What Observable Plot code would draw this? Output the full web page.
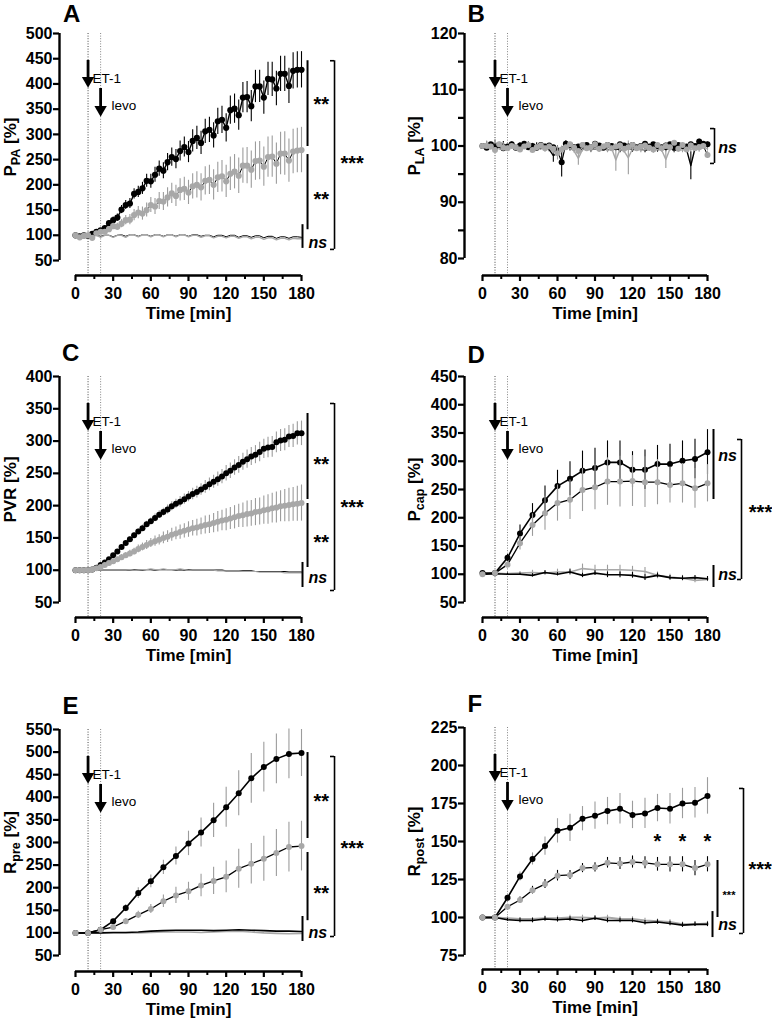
<!DOCTYPE html>
<html><head><meta charset="utf-8">
<script src="https://cdn.jsdelivr.net/npm/d3@7"></script>
<script src="https://cdn.jsdelivr.net/npm/@observablehq/plot@0.6"></script>
<style>
body{margin:0;background:#fff;}
#wrap{position:relative;width:772px;height:1020px;overflow:hidden;font-family:"Liberation Sans",Arial,Helvetica,sans-serif;}
.panel{position:absolute;width:386px;height:340px;}
.letter{position:absolute;font:bold 24px/24px "Liberation Sans",Arial,sans-serif;color:#000;}
</style></head><body><div id="wrap"></div>
<script>
// ---------- time grids & ticks ----------
const times = [0,3.33,6.67,10,13.33,16.67,20,23.33,26.67,30,33.33,36.67,40,43.33,46.67,50,53.33,56.67,60,63.33,66.67,70,73.33,76.67,80,83.33,86.67,90,93.33,96.67,100,103.33,106.67,110,113.33,116.67,120,123.33,126.67,130,133.33,136.67,140,143.33,146.67,150,153.33,156.67,160,163.33,166.67,170,173.33,176.67,180];
const times10 = [0,10,20,30,40,50,60,70,80,90,100,110,120,130,140,150,160,170,180];
const xTicks = [0,30,60,90,120,150,180];
const xMinor = [15,45,75,105,135,165];
const events = [{t:10,label:"ET-1"},{t:20,label:"levo"}];

// ---------- A: P_PA ----------
const A_et   = [100,98,100,99,103,107,110,114,124,130,135,151,160,163,182,186,193,208,207,220,232,228,245,255,251,267,275,265,287,293,283,306,309,298,326,329,313,348,351,338,373,374,356,395,395,373,410,409,391,420,420,396,426,428,428];
const A_etE  = [0,1,1,1,2,2,3,4,5,6,7,8,9,10,10,11,12,13,14,15,15,16,17,18,19,20,20,21,22,23,23,24,25,25,26,27,28,28,29,30,30,31,31,32,32,33,33,34,34,35,35,35,36,36,36];
const A_lv   = [100,96,99,100,95,104,107,107,112,118,117,123,130,131,140,145,143,150,160,157,168,167,175,183,178,190,192,185,197,200,195,208,210,200,215,217,207,222,226,218,238,238,230,247,248,236,255,256,242,262,262,248,266,268,269];
const A_lvE  = [0,1,1,1,2,2,3,4,5,6,7,8,9,10,11,12,13,14,15,16,17,18,19,20,21,22,23,24,25,26,27,28,29,30,30,31,32,33,34,35,35,36,37,38,38,39,40,41,41,42,43,43,44,44,45];
const A_ctl  = [100,100,100,97,100,100,98,100,100,97,100,101,98,101,101,98,101,101,98,101,101,98,101,101,98,101,101,98,101,101,98,100,100,97,100,100,97,100,100,96,99,99,96,99,99,95,98,98,94,97,97,94,97,97,96];
const A_lvo  = [100,99,100,96,99,100,96,100,100,96,100,100,96,101,101,97,101,101,97,101,101,97,101,101,97,101,101,97,100,100,96,99,99,95,98,98,95,98,98,94,97,97,93,96,96,92,95,95,91,94,94,91,94,93,93];

// ---------- B: P_LA ----------
const B_et   = [100.0,99.7,100.3,99.8,100.2,99.6,99.9,100.3,99.7,100.1,100.4,99.8,100.0,99.7,100.2,99.9,100.1,99.8,99.2,97.1,100.4,100.2,99.8,99.9,100.1,100.2,99.8,100.4,100.1,99.7,100.2,100.0,99.8,100.3,100.1,99.9,100.2,99.8,100.0,100.4,99.9,100.3,100.0,99.8,100.1,100.3,99.7,100.2,100.0,99.9,100.3,100.0,100.8,100.4,100.3];
const B_etE  = [0,0.3,0.3,0.3,0.3,0.3,0.3,0.3,0.3,0.3,0.3,0.3,0.3,0.3,0.3,0.3,0.3,0.3,0.8,2.6,0.5,0.3,0.3,0.3,0.3,0.3,0.3,0.3,0.3,0.3,0.3,0.3,0.3,0.3,0.3,0.3,0.3,0.3,0.3,0.3,0.3,0.3,0.3,0.3,0.3,0.3,0.3,0.3,0.3,0.3,0.3,0.3,0.4,0.4,0.4];
const B_lv   = [100.0,100.0,99.9,99.3,100.3,99.7,99.6,100.0,99.8,99.4,99.9,100.2,99.3,99.8,100.1,99.6,99.9,99.5,98.7,99.4,99.8,100.3,99.7,99.1,100.2,99.6,99.8,100.3,99.5,99.9,100.2,99.6,99.9,100.1,99.5,99.8,100.2,99.6,99.9,100.1,99.7,99.4,100.2,99.6,100.0,99.8,100.6,99.5,100.2,99.4,100.1,99.6,99.8,100.0,98.4];
const B_lvE  = [0,0.4,0.4,0.4,0.4,0.4,0.4,0.4,0.4,0.4,0.4,0.4,0.4,0.4,0.4,0.4,0.4,0.4,1.2,0.6,0.4,0.4,0.4,0.4,0.4,0.4,0.4,0.4,0.4,0.4,0.4,0.4,0.4,0.4,0.4,0.4,0.4,0.4,0.4,0.4,0.4,0.4,0.4,0.4,0.4,0.4,0.4,0.4,0.4,0.4,0.4,0.4,0.4,0.4,0.6];
const B_ctl  = [100,100.3,99.8,100.5,99.9,100.4,99.6,100.4,99.7,100.2,99.8,100.3,99.5,100.2,99.7,99.9,99.4,98.3,98.8,99.5,100.5,99.5,99.7,99.2,99.4,99.9,99.3,99.6,99.4,99.8,99.3,99.5,99.6,99.2,99.4,99.7,99.3,99.5,99.6,99.2,99.5,99.7,99.3,99.5,99.4,99.6,99.2,99.4,99.7,99.3,96.5,99.6,99.8,100.2,100.1];
const B_ctlE = [0,0.4,0.4,0.4,0.4,0.4,0.4,0.4,0.4,0.4,0.4,0.4,0.4,0.4,0.4,0.4,0.4,1.2,0.6,0.4,0.4,0.4,0.4,0.4,0.4,0.4,0.4,0.4,0.4,0.4,0.4,0.4,0.4,0.4,0.4,0.4,0.4,0.4,0.4,0.4,0.4,0.4,0.4,0.4,0.4,0.4,0.4,0.4,0.4,0.4,2.5,0.4,0.4,0.4,0.4];
const B_lvo  = [100,100.5,99.7,100.8,99.6,100.2,99.9,100.4,99.8,99.5,100.3,99.6,100.1,99.7,99.9,99.3,99.8,99.0,98.8,99.5,100.0,99.6,99.1,97.8,99.4,99.7,99.2,99.6,99.3,99.7,99.2,99.6,97.5,99.4,99.1,97.9,99.5,99.6,99.2,99.4,99.6,99.1,99.5,99.3,97.6,99.5,99.3,99.6,99.2,99.7,99.4,99.6,99.3,99.8,99.5];
const B_lvoE = [0,0.4,0.4,0.4,0.4,0.4,0.4,0.4,0.4,0.4,0.4,0.4,0.4,0.4,0.4,0.4,0.4,0.4,0.4,0.4,0.4,0.4,0.4,1.2,0.4,0.4,0.4,0.4,0.4,0.4,0.4,0.4,2.0,0.4,0.4,3.0,0.4,0.4,0.4,0.4,0.4,0.4,0.4,0.4,1.6,0.4,0.4,0.4,0.4,0.4,0.4,0.4,0.4,0.4,0.4];

// ---------- C: PVR ----------
const C_et   = [100,100,100,100,101,104,108,112,117,123,129,136,142,148,154,160,165,171,176,181,186,190,194,199,203,206,210,214,218,221,225,229,233,237,241,245,250,254,259,263,268,272,276,279,283,288,290,291,298,301,302,307,308,312,312];
const C_etE  = [0,0,0,0,1,1,1,2,2,2,3,3,3,4,4,4,5,5,5,6,6,6,7,7,7,8,8,8,9,9,9,10,10,10,11,11,12,12,12,13,13,14,14,14,15,15,16,16,16,17,17,17,18,18,19];
const C_lv   = [100,100,100,100,101,103,105,108,111,114,117,120,123,126,129,133,136,139,142,145,147,150,152,155,157,159,161,163,165,166,168,170,171,173,175,177,178,180,182,184,185,187,188,190,191,193,194,196,197,199,200,201,202,203,204];
const C_lvE  = [0,0,0,0,1,1,1,2,2,3,3,4,4,5,5,6,6,7,7,8,8,9,9,10,10,11,11,12,12,13,13,14,14,15,16,16,17,17,18,18,19,20,20,21,21,22,23,23,24,24,25,26,26,27,28];
const C_ctl  = [100,100,100,100,100,100,100,100,100,100,100,100,100,100,101,100,100,101,101,100,101,101,101,101,100,101,100,101,100,100,100,100,100,100,100,100,99,99,99,99,99,99,99,98,98,98,98,98,98,98,98,97,97,97,97];
const C_lvo  = [100,100,100,100,100,100,100,100,100,100,100,100,100,101,100,100,101,101,102,101,101,102,101,101,101,102,101,100,100,100,100,100,100,100,99,99,99,99,99,99,98,98,98,98,97,97,97,97,97,97,96,96,96,96,96];

// ---------- D: P_cap ----------
const D_et   = [102,102,129,172,205,231,256,269,283,288,298,298,285,285,295,295,301,304,316];
const D_etE  = [0,2,6,15,20,25,28,30,35,35,38,38,32,35,33,35,35,35,40];
const D_lv   = [100,102,117,155,187,208,226,232,249,254,264,264,265,263,263,258,261,252,261];
const D_lvE  = [0,2,5,12,20,30,32,35,38,40,42,45,45,45,40,32,35,35,33];
const D_ctl  = [100,101,100,100,98,103,100,104,98,102,99,99,98,94,98,94,93,94,92];
const D_ctlE = [0,2,2,2,3,3,3,4,4,4,5,5,5,5,4,4,4,4,4];
const D_lvo  = [100,102,101,102,103,102,104,104,110,108,108,108,107,105,98,95,93,89,91];
const D_lvoE = [0,2,3,3,4,4,5,6,8,8,8,8,7,7,6,5,5,4,4];

// ---------- E: R_pre ----------
const E_et   = [100,100,107,126,155,188,214,245,270,298,322,349,378,409,442,467,485,496,498];
const E_etE  = [0,1,3,5,8,12,14,16,20,27,32,38,44,50,55,55,55,55,52];
const E_lv   = [100,100,107,113,126,140,153,170,183,192,205,215,224,242,253,264,277,290,292];
const E_lvE  = [0,1,3,5,6,8,10,14,18,20,25,30,35,43,45,50,52,55,55];
const E_ctl  = [100,100,100,101,101,102,104,105,106,106,106,105,106,107,106,105,104,104,103];
const E_lvo  = [100,100,100,100,100,100,101,102,102,102,101,102,103,104,102,100,99,98,99];

// ---------- F: R_post ----------
const F_et   = [100,100,113,127,138.5,147,157,159,165,167,170,171.5,167.5,168.5,172,171.5,175,175.5,180];
const F_etE  = [0,1,2,3,4,6,8,9,8,9,9,10,9,10,9,10,10,10,12];
const F_lv   = [100,100,107,111.5,118,122,127.5,128,132.5,133,136,135.5,136.5,136,135,135,135,132.5,135];
const F_lvE  = [0,1,1.5,2,2.5,3,3.5,3,3,3,3.5,4,4,4,4.5,5,5,5,5];
const F_ctl  = [100,100,98.5,98,98,99,98.5,99,98,99.5,98,98,98,96.5,97,96,95,95.5,95.5];
const F_ctlE = [0,1,1,1.5,1.5,1.5,1.5,1.5,1.5,1.5,1.5,1.5,1.5,1.5,1.5,1.5,1.5,1.5,1.5];
const F_lvo  = [100,100,99.5,99,99,99.5,99.5,100,100,99.5,100,99,99,98,97.5,97,95.5,95.5,96];
const F_lvoE = [0,1,1,1,1,1.5,1.5,1.5,1.5,1.5,1.5,1.5,1.5,1.5,1.5,1.5,1.5,1.5,1.5];

// ---------- y ticks ----------
const ticksA = [50,100,150,200,250,300,350,400,450,500];
const ticksB = [80,90,100,110,120];
const minorB = [85,95,105,115];
const ticksC = [50,100,150,200,250,300,350,400];
const ticksD = [50,100,150,200,250,300,350,400,450];
const ticksE = [50,100,150,200,250,300,350,400,450,500,550];
const ticksF = [75,100,125,150,175,200,225];

// ---------- significance annotations (data units) ----------
const annA = {v:[{x:184.8,y1:446,y2:276},{x:184.8,y1:260,y2:111},{x:180.8,y1:121,y2:74}],
  b:[{x:206.3,y1:446,y2:72}],
  t:[{x:195.7,y:367,t:"**"},{x:195.7,y:179,t:"**"},{x:185.6,y:84,t:"ns"},{x:220.4,y:252,t:"***"}]};
const annB = {v:[], b:[{x:185.6,y1:103.1,y2:96.9}], t:[{x:188.6,y:99.7,t:"ns"}]};
const annC = {v:[{x:184.8,y1:342.7,y2:209.5},{x:184.8,y1:203.3,y2:104.2},{x:180.8,y1:112,y2:73.2}],
  b:[{x:206.3,y1:358.2,y2:68.6}],
  t:[{x:195.7,y:270,t:"**"},{x:195.7,y:149,t:"**"},{x:185.6,y:88.7,t:"ns"},{x:220.4,y:203.3,t:"***"}]};
const annD = {v:[{x:184.8,y1:356.2,y2:232.3},{x:184.8,y1:115.5,y2:76.5}],
  b:[{x:207.2,y1:338.5,y2:90.7}],
  t:[{x:188.6,y:310.2,t:"ns"},{x:188.6,y:99.6,t:"ns"},{x:222.4,y:216.4,t:"***"}]};
const annE = {v:[{x:184.8,y1:499,y2:308.8},{x:184.8,y1:277.9,y2:127},{x:180.8,y1:136.3,y2:81}],
  b:[{x:206.3,y1:490.3,y2:92}],
  t:[{x:195.7,y:399.6,t:"**"},{x:195.7,y:196,t:"**"},{x:185.6,y:100.9,t:"ns"},{x:220.4,y:295.6,t:"***"}]};
const annF = {v:[{x:188,y1:137.5,y2:100},{x:184,y1:103.9,y2:86.8}],
  b:[{x:208.8,y1:184.9,y2:89.5}],
  t:[{x:197.2,y:116.4,t:"***",small:true},{x:188.6,y:95.4,t:"ns"},{x:222.1,y:134.2,t:"***"},{x:140,y:152.7,t:"*"},{x:160,y:152.7,t:"*"},{x:180,y:152.7,t:"*"}]};

// ---------- rendering ----------
const FONT = '"Liberation Sans", Arial, Helvetica, sans-serif';
const BLACK = "#000", GRAY = "#a8a8a8", GRAYBAR = "#9c9c9c";
const ser = (ts, vs, es) => ts.map((t, i) => ({t, v: vs[i], e: es ? es[i] : 0}));
const blank = () => "";

function groupMarks(g) {
  const d = ser(g.t, g.v, g.e);
  const out = [];
  if (g.e) out.push(Plot.ruleX(d.filter(o => o.e > 0), {x: "t", y1: o => o.v - o.e, y2: o => o.v + o.e, stroke: g.bar, strokeWidth: 1.1}));
  out.push(Plot.line(d, {x: "t", y: "v", stroke: g.line, strokeWidth: g.lw}));
  if (g.dot) out.push(Plot.dot(d, {x: "t", y: "v", r: g.r, fill: g.dot, stroke: "none"}));
  return out;
}

function panel(p) {
  const H = 340, W = 386;
  const fh = p.fb - p.mt;
  const marks = [];
  // event dotted lines
  marks.push(Plot.ruleX([10], {stroke: "#333", strokeWidth: 0.9, strokeDasharray: "1,1.6", insetBottom: -p.dy}));
  marks.push(Plot.ruleX([20], {stroke: "#777", strokeWidth: 0.9, strokeDasharray: "1,1.6", insetBottom: -p.dy}));
  // y axis
  marks.push(Plot.ruleX([0], {dx: p.ml - p.x0, strokeWidth: 2.4, stroke: BLACK}));
  marks.push(Plot.axisY(p.yTicks, {anchor: "left", tickSize: 6, tickPadding: 1, strokeWidth: 2.2, fontSize: 16, fontWeight: "bold", label: null}));
  if (p.yMinor) marks.push(Plot.axisY(p.yMinor, {anchor: "left", tickSize: 6, strokeWidth: 2.2, tickFormat: blank, label: null}));
  // x axis
  marks.push(Plot.ruleY([p.yDomain[0]], {x1: 0, x2: 180, dy: p.dy, strokeWidth: 2.4, stroke: BLACK}));
  marks.push(Plot.axisX(xTicks, {anchor: "bottom", dy: p.dy, tickSize: 6, tickPadding: 6, strokeWidth: 2.2, fontSize: 16, fontWeight: "bold", label: null}));
  marks.push(Plot.axisX(xMinor, {anchor: "bottom", dy: p.dy, tickSize: 4, strokeWidth: 2, tickFormat: blank, label: null}));
  // axis titles
  marks.push(Plot.text(["Time [min]"], {x: 90, frameAnchor: "bottom", dy: p.dy + 43, lineAnchor: "bottom", fontSize: 17, fontWeight: "bold"}));
  marks.push(Plot.text([p.label], {frameAnchor: "left", dx: p.labelDx, rotate: -90, fontSize: 17, fontWeight: "bold", textAnchor: "middle", lineAnchor: "middle"}));
  // arrows
  const shaft = [[27, 45], [55, 73]], head = [47, 76], txt = [40, 67], tdx = [4.5, 11];
  events.forEach((ev, i) => {
    marks.push(Plot.ruleX([ev.t], {insetTop: shaft[i][0], insetBottom: fh - shaft[i][1], strokeWidth: 2.8, stroke: BLACK}));
    marks.push(Plot.dot([ev.t], {x: d => d, frameAnchor: "top", dy: head[i], symbol: "triangle", r: 4.6, rotate: 180, fill: BLACK, stroke: "none"}));
    marks.push(Plot.text([ev.label], {x: ev.t, frameAnchor: "top", dy: txt[i], dx: tdx[i], textAnchor: "start", fontSize: 13.5}));
  });
  // data
  p.groups.forEach(g => marks.push(...groupMarks(g)));
  // annotations
  marks.push(Plot.ruleX(p.ann.v, {x: "x", y1: "y1", y2: "y2", strokeWidth: 2, stroke: BLACK}));
  marks.push(Plot.ruleX(p.ann.b, {x: "x", y1: "y1", y2: "y2", strokeWidth: 1.6, stroke: BLACK}));
  const ends = p.ann.b.flatMap(b => [{x: b.x, y: b.y1}, {x: b.x, y: b.y2}]);
  marks.push(Plot.ruleY(ends, {y: "y", x1: o => o.x - 3.2, x2: "x", strokeWidth: 1.6, stroke: BLACK}));
  p.ann.t.forEach(a => {
    const isNs = a.t === "ns";
    marks.push(Plot.text([a], {x: "x", y: "y", text: "t", fontWeight: "bold",
      fontSize: isNs ? 16 : (a.small ? 11 : 20), fontStyle: isNs ? "italic" : "normal",
      textAnchor: isNs ? "start" : "middle", dy: isNs ? 0 : (a.small ? 2.5 : 4.5)}));
  });

  const svg = Plot.plot({
    width: W, height: H,
    marginLeft: p.ml, marginRight: 0, marginTop: p.mt, marginBottom: H - p.fb,
    x: {domain: [0, 180], range: [p.x0, p.x1]},
    y: {domain: p.yDomain},
    style: {fontFamily: FONT, background: "transparent", overflow: "visible", color: "#000"},
    marks
  });
  // subscripts in y label: "P|PA| [%]"
  svg.querySelectorAll("text").forEach(el => {
    const s = el.textContent;
    if (s.includes("|")) {
      const [a, b, c] = s.split("|");
      while (el.firstChild) el.removeChild(el.firstChild);
      const NS = "http://www.w3.org/2000/svg";
      const t1 = document.createElementNS(NS, "tspan"); t1.textContent = a;
      const t2 = document.createElementNS(NS, "tspan"); t2.textContent = b; t2.setAttribute("font-size", "12.5"); t2.setAttribute("dy", "4");
      const t3 = document.createElementNS(NS, "tspan"); t3.textContent = c; t3.setAttribute("dy", "-4");
      el.append(t1, t2, t3);
    }
  });
  const div = document.createElement("div");
  div.className = "panel";
  div.style.left = p.left + "px"; div.style.top = p.top + "px";
  div.appendChild(svg);
  return div;
}

const L = {ml: 59, x0: 75, x1: 301, labelDx: -49};
const R = {ml: 78, x0: 96, x1: 321, labelDx: -50};

const panels = [
  {...L, left: 0, top: 0, mt: 33, fb: 260, dy: 15, yDomain: [50, 500], yTicks: ticksA, label: "P|PA| [%]", ann: annA,
   groups: [
     {t: times, v: A_ctl, line: BLACK, lw: 1},
     {t: times, v: A_lvo, line: GRAY, lw: 1.4},
     {t: times, v: A_et, e: A_etE, bar: BLACK, line: BLACK, lw: 1.4, dot: BLACK, r: 3.1},
     {t: times, v: A_lv, e: A_lvE, bar: GRAYBAR, line: BLACK, lw: 1, dot: GRAY, r: 3.1}]},
  {...R, left: 386, top: 0, mt: 33, fb: 258, dy: 17, yDomain: [80, 120], yTicks: ticksB, yMinor: minorB, label: "P|LA| [%]", ann: annB,
   groups: [
     {t: times, v: B_ctl, e: B_ctlE, bar: BLACK, line: BLACK, lw: 1.4},
     {t: times, v: B_lvo, e: B_lvoE, bar: GRAYBAR, line: GRAY, lw: 1.4},
     {t: times, v: B_et, e: B_etE, bar: BLACK, line: BLACK, lw: 1.2, dot: BLACK, r: 3},
     {t: times, v: B_lv, e: B_lvE, bar: GRAYBAR, line: BLACK, lw: 1, dot: GRAY, r: 3}]},
  {...L, left: 0, top: 340, mt: 36, fb: 262, dy: 15, yDomain: [50, 400], yTicks: ticksC, label: "PVR [%]", ann: annC,
   groups: [
     {t: times, v: C_ctl, line: BLACK, lw: 1.2},
     {t: times, v: C_lvo, line: GRAY, lw: 1.2},
     {t: times, v: C_et, e: C_etE, bar: GRAYBAR, line: BLACK, lw: 1.2, dot: BLACK, r: 3},
     {t: times, v: C_lv, e: C_lvE, bar: GRAYBAR, line: BLACK, lw: 1, dot: GRAY, r: 3}]},
  {...R, left: 386, top: 340, mt: 36, fb: 262, dy: 15, yDomain: [50, 450], yTicks: ticksD, label: "P|cap| [%]", ann: annD,
   groups: [
     {t: times10, v: D_lvo, e: D_lvoE, bar: GRAYBAR, line: GRAY, lw: 1.6},
     {t: times10, v: D_ctl, e: D_ctlE, bar: BLACK, line: BLACK, lw: 1.6},
     {t: times10, v: D_et, e: D_etE, bar: BLACK, line: BLACK, lw: 1.6, dot: BLACK, r: 3},
     {t: times10, v: D_lv, e: D_lvE, bar: GRAYBAR, line: BLACK, lw: 1.3, dot: GRAY, r: 3}]},
  {...L, left: 0, top: 680, mt: 49, fb: 275, dy: 16, yDomain: [50, 550], yTicks: ticksE, label: "R|pre| [%]", ann: annE,
   groups: [
     {t: times10, v: E_lvo, line: GRAY, lw: 1.6},
     {t: times10, v: E_ctl, line: BLACK, lw: 1.6},
     {t: times10, v: E_et, e: E_etE, bar: GRAYBAR, line: BLACK, lw: 1.6, dot: BLACK, r: 3},
     {t: times10, v: E_lv, e: E_lvE, bar: GRAYBAR, line: BLACK, lw: 1.3, dot: GRAY, r: 3}]},
  {...R, left: 386, top: 680, mt: 47, fb: 275, dy: 14, yDomain: [75, 225], yTicks: ticksF, label: "R|post| [%]", ann: annF,
   groups: [
     {t: times10, v: F_lvo, e: F_lvoE, bar: GRAYBAR, line: GRAY, lw: 2},
     {t: times10, v: F_ctl, e: F_ctlE, bar: BLACK, line: BLACK, lw: 1.6},
     {t: times10, v: F_et, e: F_etE, bar: GRAYBAR, line: BLACK, lw: 1.6, dot: BLACK, r: 3},
     {t: times10, v: F_lv, e: F_lvE, bar: BLACK, line: BLACK, lw: 1.3, dot: GRAY, r: 3}]}
];

const wrap = document.getElementById("wrap");
panels.forEach(p => wrap.appendChild(panel(p)));

const letters = [["A", 63, 2], ["B", 467.5, 2], ["C", 62, 341.4], ["D", 467.5, 343], ["E", 62.5, 693.7], ["F", 467.5, 692.4]];
letters.forEach(([s, x, y]) => {
  const d = document.createElement("div");
  d.className = "letter"; d.textContent = s;
  d.style.left = x + "px"; d.style.top = y + "px";
  wrap.appendChild(d);
});
</script>
</body></html>
